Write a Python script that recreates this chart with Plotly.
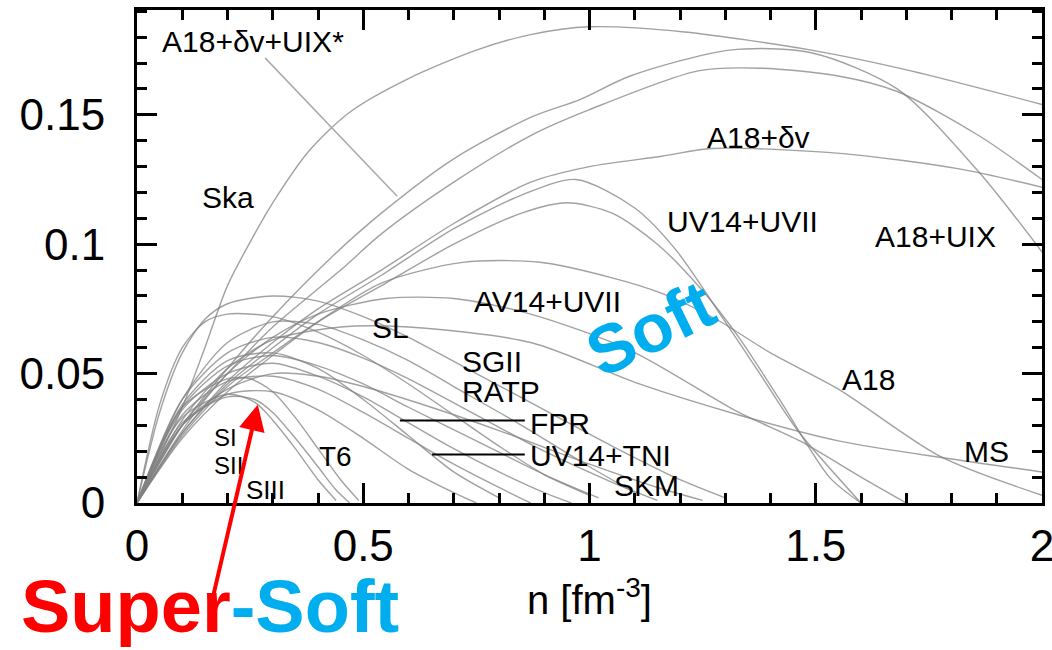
import plotly.graph_objects as go

# ---------------- data ----------------
names = ["Ska", "A18+dv+UIX*", "A18+UIX", "A18+dv", "UV14+UVII", "L2", "A18",
         "AV14+UVII", "MS", "SL", "SGII", "RATP", "FPR", "UV14+TNI", "SKM",
         "SI", "SII", "SIII", "T6", "S20", "S21", "S22"]

x_ska = [0, 0.05, 0.1, 0.15, 0.2, 0.26, 0.3, 0.38, 0.47, 0.6, 0.75, 0.87, 1.0, 1.21, 1.49, 1.71, 2.0]
y_ska = [0, 0.018, 0.037, 0.06, 0.084, 0.104, 0.116, 0.136, 0.151, 0.164, 0.175, 0.181, 0.184, 0.182, 0.175, 0.167, 0.154]

x_a18dvuix = [0, 0.1, 0.2, 0.3, 0.43, 0.54, 0.7, 0.87, 0.98, 1.09, 1.31, 1.49, 1.68, 1.86, 2.0]
y_a18dvuix = [0, 0.03, 0.052, 0.072, 0.095, 0.112, 0.133, 0.149, 0.156, 0.165, 0.175, 0.174, 0.160, 0.128, 0.097]

x_a18uix = [0, 0.1, 0.2, 0.3, 0.45, 0.54, 0.7, 0.87, 1.0, 1.24, 1.38, 1.55, 1.68, 1.86, 2.0]
y_a18uix = [0, 0.03, 0.05, 0.068, 0.09, 0.104, 0.124, 0.142, 0.152, 0.167, 0.168, 0.165, 0.159, 0.142, 0.125]

x_a18dv = [0, 0.1, 0.2, 0.3, 0.4, 0.54, 0.7, 0.87, 1.0, 1.16, 1.27, 1.56, 1.82, 2.0]
y_a18dv = [0, 0.027, 0.047, 0.062, 0.075, 0.09, 0.108, 0.124, 0.130, 0.134, 0.137, 0.135, 0.129, 0.122]

x_uv14uvii = [0, 0.1, 0.2, 0.3, 0.4, 0.54, 0.7, 0.85, 0.97, 1.1, 1.19, 1.3, 1.38, 1.46, 1.6]
y_uv14uvii = [0, 0.027, 0.046, 0.06, 0.073, 0.088, 0.106, 0.119, 0.125, 0.114, 0.098, 0.070, 0.049, 0.028, 0.0]

x_l2 = [0, 0.1, 0.2, 0.3, 0.4, 0.55, 0.7, 0.85, 0.95, 1.05, 1.15, 1.25, 1.33, 1.42, 1.53, 1.6]
y_l2 = [0, 0.026, 0.045, 0.058, 0.07, 0.085, 0.1, 0.112, 0.116, 0.112, 0.1, 0.082, 0.064, 0.04, 0.01, 0.0]

x_a18 = [0, 0.1, 0.2, 0.3, 0.4, 0.54, 0.72, 0.89, 1.05, 1.16, 1.28, 1.4, 1.55, 1.775, 2.0]
y_a18 = [0, 0.025, 0.043, 0.057, 0.07, 0.085, 0.093, 0.093, 0.087, 0.081, 0.071, 0.058, 0.044, 0.018, 0.003]

x_av14 = [0, 0.1, 0.2, 0.3, 0.4, 0.55, 0.7, 0.87, 1.09, 1.33, 1.465, 1.6, 1.7]
y_av14 = [0, 0.028, 0.05, 0.064, 0.073, 0.079, 0.079, 0.073, 0.059, 0.035, 0.024, 0.01, 0.0]

x_ms = [0, 0.1, 0.2, 0.3, 0.45, 0.6, 0.87, 1.11, 1.33, 1.55, 1.8, 2.0]
y_ms = [0, 0.032, 0.052, 0.063, 0.068, 0.068, 0.062, 0.046, 0.034, 0.024, 0.017, 0.012]

x_sl = [0, 0.05, 0.1, 0.15, 0.2, 0.3, 0.4, 0.5, 0.6, 0.75, 0.9, 1.05, 1.2, 1.3]
y_sl = [0, 0.035, 0.058, 0.071, 0.077, 0.08, 0.078, 0.072, 0.064, 0.05, 0.036, 0.022, 0.009, 0.002]

x_sgii = [0, 0.1, 0.2, 0.3, 0.4, 0.5, 0.6, 0.75, 0.9, 1.05, 1.15]
y_sgii = [0, 0.04, 0.058, 0.064, 0.062, 0.056, 0.048, 0.034, 0.02, 0.008, 0.001]

x_ratp = [0, 0.1, 0.2, 0.3, 0.4, 0.5, 0.6, 0.75, 0.9, 1.02]
y_ratp = [0, 0.037, 0.053, 0.057, 0.053, 0.046, 0.037, 0.024, 0.011, 0.002]

x_fpr = [0, 0.1, 0.2, 0.3, 0.4, 0.5, 0.6, 0.7, 0.8, 0.9, 0.96]
y_fpr = [0, 0.036, 0.05, 0.054, 0.049, 0.041, 0.031, 0.021, 0.012, 0.004, 0.0]

x_uv14tni = [0, 0.1, 0.2, 0.3, 0.4, 0.5, 0.6, 0.7, 0.8, 0.87]
y_uv14tni = [0, 0.034, 0.047, 0.049, 0.044, 0.035, 0.025, 0.015, 0.006, 0.0]

x_skm = [0, 0.1, 0.2, 0.3, 0.4, 0.5, 0.65, 0.8, 1.0, 1.15, 1.25]
y_skm = [0, 0.03, 0.044, 0.05, 0.049, 0.045, 0.037, 0.028, 0.015, 0.006, 0.001]

x_si = [0, 0.1, 0.2, 0.25, 0.3, 0.35, 0.4, 0.45, 0.49]
y_si = [0, 0.037, 0.048, 0.048, 0.043, 0.033, 0.021, 0.009, 0.001]

x_sii = [0, 0.1, 0.2, 0.26, 0.3, 0.35, 0.4, 0.44, 0.47]
y_sii = [0, 0.031, 0.041, 0.04, 0.035, 0.025, 0.014, 0.005, 0.0]

x_siii = [0, 0.1, 0.2, 0.26, 0.3, 0.35, 0.4, 0.44]
y_siii = [0, 0.033, 0.042, 0.039, 0.032, 0.021, 0.009, 0.001]

x_t6 = [0, 0.1, 0.2, 0.3, 0.4, 0.5, 0.6, 0.7, 0.75]
y_t6 = [0, 0.03, 0.042, 0.043, 0.036, 0.025, 0.013, 0.004, 0.0]

x_s20 = [0, 0.1, 0.2, 0.3, 0.4, 0.5, 0.6, 0.7, 0.8]
y_s20 = [0, 0.038, 0.055, 0.058, 0.052, 0.04, 0.026, 0.012, 0.002]

x_s21 = [0, 0.1, 0.2, 0.3, 0.4, 0.5, 0.6, 0.7, 0.85, 1.0, 1.1]
y_s21 = [0, 0.04, 0.062, 0.07, 0.069, 0.063, 0.055, 0.045, 0.03, 0.014, 0.004]

x_s22 = [0, 0.05, 0.1, 0.15, 0.2, 0.3, 0.4, 0.5, 0.6, 0.7, 0.8, 0.9, 1.0]
y_s22 = [0, 0.038, 0.06, 0.07, 0.073, 0.072, 0.066, 0.057, 0.046, 0.034, 0.022, 0.011, 0.003]

curves_x = [x_ska, x_a18dvuix, x_a18uix, x_a18dv, x_uv14uvii, x_l2, x_a18, x_av14, x_ms,
            x_sl, x_sgii, x_ratp, x_fpr, x_uv14tni, x_skm, x_si, x_sii, x_siii, x_t6,
            x_s20, x_s21, x_s22]
curves_y = [y_ska, y_a18dvuix, y_a18uix, y_a18dv, y_uv14uvii, y_l2, y_a18, y_av14, y_ms,
            y_sl, y_sgii, y_ratp, y_fpr, y_uv14tni, y_skm, y_si, y_sii, y_siii, y_t6,
            y_s20, y_s21, y_s22]

x_tickvals = [0, 0.5, 1, 1.5, 2]
x_ticktext = ["0", "0.5", "1", "1.5", "2"]
y_tickvals = [0, 0.05, 0.1, 0.15]
y_ticktext = ["0", "0.05", "0.1", "0.15"]

# curve labels: text, x, y (data coords, left anchored), font size
label_text = ["A18+δv+UIX*", "Ska", "A18+δv", "UV14+UVII", "A18+UIX", "AV14+UVII", "SL",
              "SGII", "RATP", "FPR", "UV14+TNI", "SKM", "A18", "MS", "SI", "SII", "SIII", "T6"]
label_x = [0.051, 0.139, 1.255, 1.167, 1.627, 0.740, 0.515, 0.714, 0.714, 0.864, 0.864,
           1.050, 1.554, 1.823, 0.166, 0.166, 0.236, 0.398]
label_y = [0.1782, 0.118, 0.1411, 0.1087, 0.1029, 0.0778, 0.0678, 0.0546, 0.0431, 0.0307,
           0.0183, 0.0068, 0.0477, 0.0199, 0.0253, 0.0143, 0.0052, 0.018]
label_size = [30, 30, 30, 30, 30, 30, 30, 30, 30, 30, 30, 30, 30, 30, 24, 24, 26, 28]

# leader lines: (x0, y0, x1, y1, colour)
leaders = [(0.283, 0.1720, 0.575, 0.1185, "rgb(170,170,170)"),
           (0.581, 0.0319, 0.857, 0.0319, "black"),
           (0.652, 0.0187, 0.857, 0.0187, "black")]

# ---------------- figure ----------------
FONT = "Liberation Sans, Arial, sans-serif"
GRAY = "rgba(130,130,130,0.75)"

fig = go.Figure()
for cx, cy, nm in zip(curves_x, curves_y, names):
    fig.add_trace(go.Scatter(x=cx, y=cy, mode="lines", name=nm,
                             line=dict(color=GRAY, width=1.4, shape="spline", smoothing=0.8),
                             hoverinfo="skip", showlegend=False))

shapes = []
for x0, y0, x1, y1, c in leaders:
    shapes.append(dict(type="line", xref="x", yref="y", x0=x0, y0=y0, x1=x1, y1=y1,
                       line=dict(color=c, width=2 if c == "black" else 1.5)))

annotations = []
for t, lx, ly, ls in zip(label_text, label_x, label_y, label_size):
    annotations.append(dict(x=lx, y=ly, xref="x", yref="y", text=t, showarrow=False,
                            xanchor="left", yanchor="middle",
                            font=dict(family=FONT, size=ls, color="black")))

annotations.append(dict(x=0.5, y=-0.19, xref="paper", yref="paper",
                        text="n [fm<sup>-3</sup>]", showarrow=False,
                        xanchor="center", yanchor="middle",
                        font=dict(family=FONT, size=40, color="black")))

annotations.append(dict(x=0.0807, y=-0.2975, xref="paper", yref="paper",
                        text="<b><span style='color:#FF0000'>Super</span>"
                             "<span style='color:#00AEEF'>-Soft</span></b>",
                        showarrow=False, xanchor="center", yanchor="bottom",
                        font=dict(family=FONT, size=74, color="#FF0000")))

annotations.append(dict(x=1.134, y=0.0678, xref="x", yref="y", text="<b>Soft</b>",
                        showarrow=False, textangle=-26, xanchor="center", yanchor="middle",
                        font=dict(family=FONT, size=68, color="#00AEEF")))

annotations.append(dict(x=0.267, y=0.038, xref="x", yref="y", text="",
                        showarrow=True, ax=-45, ay=193, axref="pixel", ayref="pixel",
                        arrowhead=2, arrowsize=1.3, arrowwidth=4, arrowcolor="#FF0000"))

axis_common = dict(showline=True, linewidth=3, linecolor="black", mirror="allticks",
                   ticks="inside", ticklen=20, tickwidth=3, tickcolor="black",
                   showgrid=False, zeroline=False, automargin=False,
                   ticklabeloverflow="allow",
                   tickfont=dict(family=FONT, size=44, color="black"))

fig.update_layout(
    width=1052, height=650,
    margin=dict(l=137, r=10, t=10, b=147),
    paper_bgcolor="white", plot_bgcolor="white",
    xaxis=dict(range=[0, 2], tickvals=x_tickvals, ticktext=x_ticktext,
               minor=dict(ticks="inside", ticklen=10, tickwidth=3, tickcolor="black",
                          dtick=0.1, tick0=0, showgrid=False),
               ticklabelstandoff=2, **axis_common),
    yaxis=dict(range=[0, 0.1905], tickvals=y_tickvals, ticktext=y_ticktext,
               minor=dict(ticks="inside", ticklen=10, tickwidth=3, tickcolor="black",
                          dtick=0.01, tick0=0, showgrid=False),
               ticklabelstandoff=20, **axis_common),
    shapes=shapes,
    annotations=annotations,
)

fig.write_html("out.html")
